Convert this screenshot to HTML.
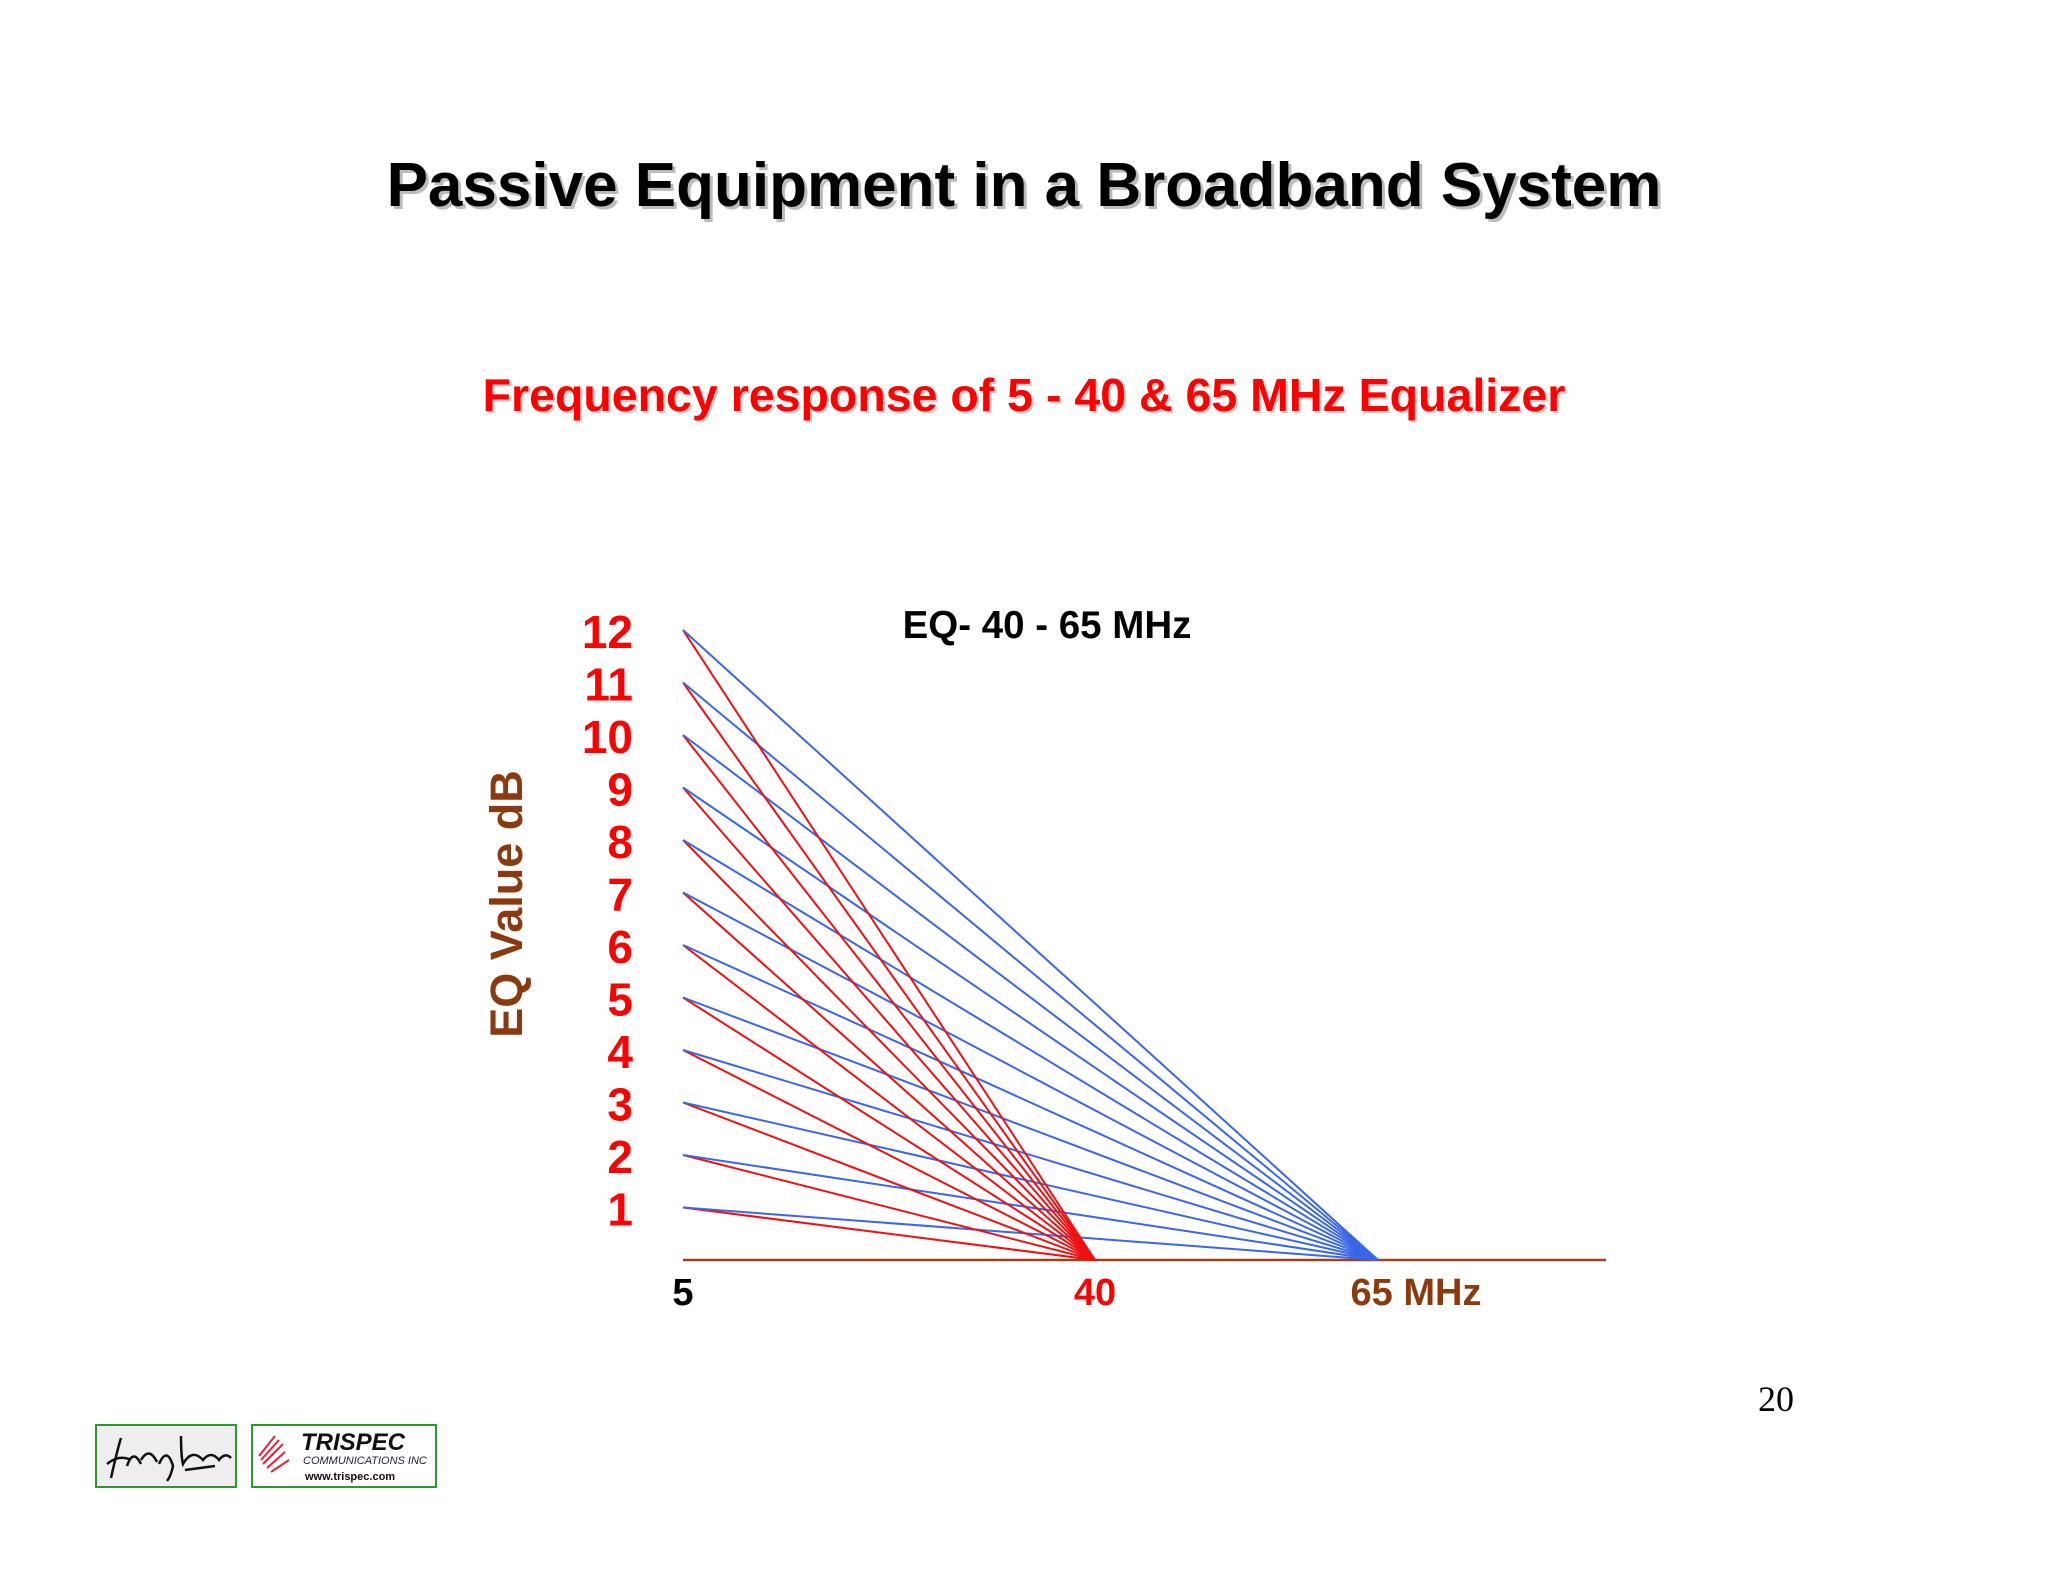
<!DOCTYPE html>
<html><head><meta charset="utf-8"><style>
body{margin:0;background:#fff;}
#page{position:relative;width:2048px;height:1582px;background:#fff;overflow:hidden;font-family:"Liberation Sans",sans-serif;}
.t{position:absolute;white-space:nowrap;font-weight:bold;}
</style></head><body>
<div id="page">
<div class="t" style="left:0;width:2048px;text-align:center;top:150px;font-size:62px;color:#000;text-shadow:3px 3px 0 #bbb;">Passive Equipment in a Broadband System</div>
<div class="t" style="left:0;width:2048px;text-align:center;top:368px;font-size:46.5px;color:#f00;text-shadow:2px 2px 0 #ccc;">Frequency response of 5 - 40 &amp; 65 MHz Equalizer</div>
<svg id="chart" width="2048" height="1582" style="position:absolute;left:0;top:0;" font-family="Liberation Sans, sans-serif" font-weight="bold"></svg>
<div class="t" style="left:1758px;top:1378px;font-size:36px;font-weight:normal;font-family:'Liberation Serif',serif;">20</div>
<div style="position:absolute;left:95px;top:1424px;width:138px;height:60px;border:2px solid #2a9a2a;background:#eee;">
<svg width="138" height="60"><path d="M14 52 Q20 25 24 12 M10 38 Q22 28 34 34 M30 40 Q36 22 44 38 M44 34 Q52 20 60 36 M62 38 Q70 20 76 40 Q74 50 70 55 M84 10 Q84 30 86 38 Q95 22 106 34 Q114 24 122 34 Q128 26 134 32 M88 44 L118 40" stroke="#111" stroke-width="2.5" fill="none"/></svg></div>
<div style="position:absolute;left:251px;top:1424px;width:182px;height:60px;border:2px solid #2a9a2a;background:#fff;">
<svg width="182" height="60"><g stroke="#e8203a" stroke-width="2"><path d="M6 30 L22 10 M8 34 L26 14 M10 38 L30 18 M14 42 L32 26 M18 46 L36 34"/></g>
<text x="48" y="24" font-family="Liberation Sans" font-style="italic" font-weight="bold" font-size="24" fill="#111">TRISPEC</text>
<text x="50" y="38" font-family="Liberation Sans" font-style="italic" font-size="11" fill="#223">COMMUNICATIONS INC</text>
<text x="52" y="54" font-family="Liberation Sans" font-weight="bold" font-size="11" fill="#111">www.trispec.com</text></svg></div>
</div>
<script>
const eqValues=[1,2,3,4,5,6,7,8,9,10,11,12];
const yTickLabels=["1","2","3","4","5","6","7","8","9","10","11","12"];
const redEnd=[40];
const blueEnd=[65];
const xTickValues=[5,40,65];
const xTickLabels=["5","40","65 MHz"];
const svg=document.getElementById('chart');
const NS='http://www.w3.org/2000/svg';
const xDom=[5,40,65], xRng=[683,1095,1378];
function xs(v){
 if(v<=xDom[1]) return xRng[0]+(v-xDom[0])*(xRng[1]-xRng[0])/(xDom[1]-xDom[0]);
 return xRng[1]+(v-xDom[1])*(xRng[2]-xRng[1])/(xDom[2]-xDom[1]);
}
function ys(v){return 1260-v*(1260-630)/12;}
function mk(tag,attrs){const e=document.createElementNS(NS,tag);for(const k in attrs)e.setAttribute(k,attrs[k]);svg.appendChild(e);return e;}
const ax=mk('line',{x1:683,y1:1260,x2:1606,y2:1260,stroke:'#a0401a','stroke-width':2.5});


eqValues.forEach((v,i)=>{
 const r=mk('line',{x1:xs(5),y1:ys(v),x2:xs(redEnd[0]),y2:ys(0),stroke:'#f01010','stroke-width':2});
 
 
 const b=mk('line',{x1:xs(5),y1:ys(v),x2:xs(blueEnd[0]),y2:ys(0),stroke:'#3a66e8','stroke-width':2});
 
 
 const t=mk('text',{x:633,y:ys(v)+18,'text-anchor':'end','font-size':46,fill:'#f00'});
 t.textContent=yTickLabels[i];
 
 
});
const xColors=['#000','#f00','#8b3a0f'];
xTickValues.forEach((v,i)=>{
 const t=mk('text',{x:xs(v)+(i==2?38:0),y:1305,'text-anchor':'middle','font-size':38,fill:xColors[i]});
 t.textContent=xTickLabels[i];
 
 
});
const ct=mk('text',{x:1047,y:638,'text-anchor':'middle','font-size':38.5,fill:'#000'});
ct.textContent='EQ- 40 - 65 MHz';


const yt=mk('text',{x:0,y:0,'text-anchor':'middle','font-size':45,fill:'#8b3a0f',transform:'translate(522,904) rotate(-90)'});
yt.textContent='EQ Value dB';


</script>
</body></html>
